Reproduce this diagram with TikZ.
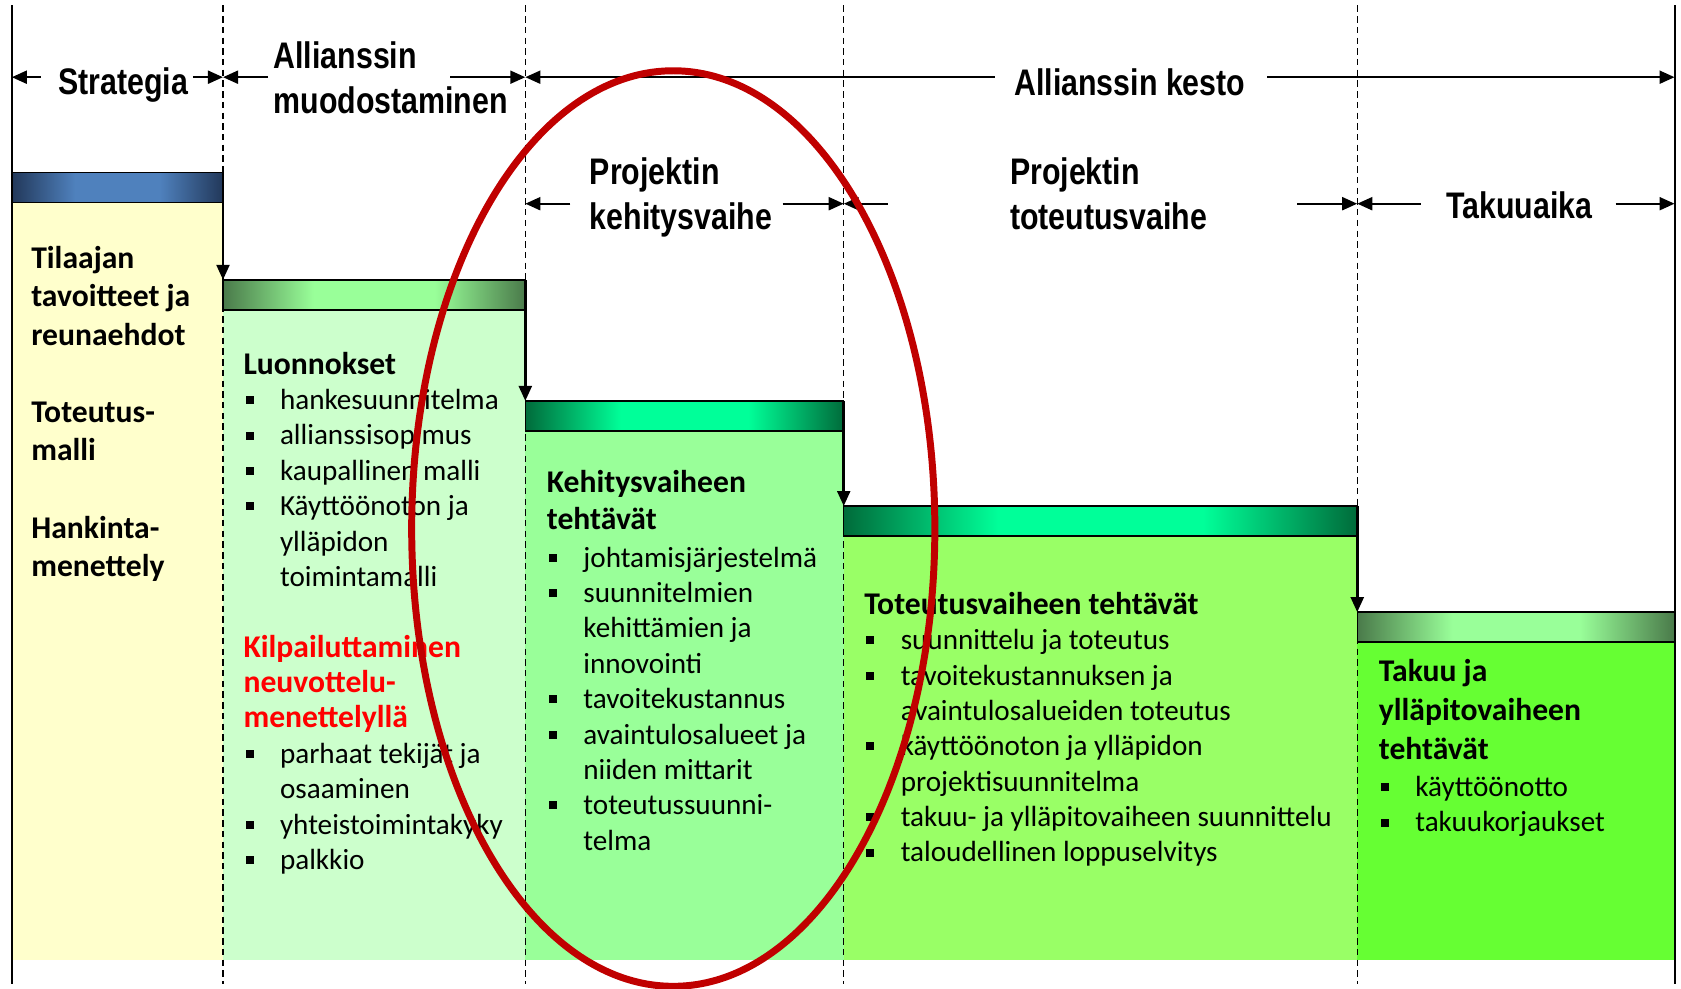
\documentclass[tikz,border=0pt]{standalone}
\usepackage{fontspec}
\setmainfont{Carlito}
\newfontfamily\hdrfont[FakeStretch=0.82]{Liberation Sans}
\usetikzlibrary{arrows.meta}
\definecolor{bodyA}{HTML}{FFFFCC}
\definecolor{bodyB}{HTML}{CCFFCC}
\definecolor{bodyC}{HTML}{99FF99}
\definecolor{bodyD}{HTML}{99FF66}
\definecolor{bodyE}{HTML}{66FF33}
\definecolor{hAe}{HTML}{22385A}
\definecolor{hAm}{HTML}{4F81BD}
\definecolor{hBe}{HTML}{4A7A4A}
\definecolor{hBm}{HTML}{99FF99}
\definecolor{hCe}{HTML}{006B3A}
\definecolor{hCm}{HTML}{00FF99}
\definecolor{ringred}{HTML}{C00000}
\pgfdeclarehorizontalshading{barA}{100bp}{color(0bp)=(hAe); color(25bp)=(hAe); color(40bp)=(hAm); color(60bp)=(hAm); color(75bp)=(hAe); color(100bp)=(hAe)}
\pgfdeclarehorizontalshading{barB}{100bp}{color(0bp)=(hBe); color(25bp)=(hBe); color(40bp)=(hBm); color(60bp)=(hBm); color(75bp)=(hBe); color(100bp)=(hBe)}
\pgfdeclarehorizontalshading{barC}{100bp}{color(0bp)=(hCe); color(25bp)=(hCe); color(40bp)=(hCm); color(60bp)=(hCm); color(75bp)=(hCe); color(100bp)=(hCe)}
\newcommand{\bul}{\makebox[34pt][l]{\hspace*{2pt}\rule[5pt]{7.5pt}{7.5pt}}}
\newcommand{\ind}{\hspace*{34pt}}
\newcommand{\hb}{\bfseries\fontsize{29.5}{33}\selectfont}
\begin{document}
\begin{tikzpicture}[x=1pt,y=-1pt,
  hdtext/.style={inner sep=0pt, font=\hdrfont\bfseries\fontsize{34.5}{42}\selectfont},
  coltext/.style={inner sep=0pt, anchor=base west, font=\fontsize{27.2}{33}\selectfont},
  dimarrow/.style={line width=2.2pt, -{Triangle[length=14pt,width=12pt]}},
  steparrow/.style={line width=2.5pt, -{Triangle[length=14pt,width=12pt]}},
  guide/.style={line width=1.1pt, dash pattern=on 6pt off 4pt},
  border/.style={line width=2pt},
  barline/.style={line width=1.3pt},
  redring/.style={line width=6.5pt, draw=ringred}]
\useasboundingbox (0,0) rectangle (1568,922);
\fill[white] (0,0) rectangle (1568,922);
% bodies
\fill[bodyA] (11,189) rectangle (208,895);
\fill[bodyB] (208,289) rectangle (490,895);
\fill[bodyC] (490,402) rectangle (787,895);
\fill[bodyD] (787,500) rectangle (1266,895);
\fill[bodyE] (1266,599) rectangle (1562,895);
% header bars
\shade[shading=barA] (11,161) rectangle (208,189);
\draw[barline] (11,161) rectangle (208,189);
\shade[shading=barB] (208,261) rectangle (490,289);
\draw[barline] (208,261) rectangle (490,289);
\shade[shading=barC] (490,374) rectangle (787,402);
\draw[barline] (490,374) rectangle (787,402);
\shade[shading=barC] (787,472) rectangle (1266,500);
\draw[barline] (787,472) rectangle (1266,500);
\shade[shading=barB] (1266,571) rectangle (1562,599);
\draw[barline] (1266,571) rectangle (1562,599);
% guide lines
\draw[border] (11,5) -- (11,918);
\draw[border] (1562,5) -- (1562,918);
\foreach \gx in {208,490,787,1266} \draw[guide] (\gx,5) -- (\gx,918);
% step arrows
\coordinate (s1a) at (208,161); \coordinate (s1b) at (208,261);
\coordinate (s2a) at (490,261); \coordinate (s2b) at (490,374);
\coordinate (s3a) at (787,374); \coordinate (s3b) at (787,472);
\coordinate (s4a) at (1266,472); \coordinate (s4b) at (1266,571);
\draw[steparrow] (s1a) -- (s1b);
\draw[steparrow] (s2a) -- (s2b);
\draw[steparrow] (s3a) -- (s3b);
\draw[steparrow] (s4a) -- (s4b);
% top row
\node[hdtext, anchor=base] (strat) at (115,88) {Strategia};
\node[hdtext, anchor=base west] (allmuod) at (255,64) {\begin{tabular}[t]{@{}l@{}}Allianssin\\muodostaminen\end{tabular}};
\node[hdtext, anchor=base west] (allkesto) at (946,89) {Allianssin kesto};
\coordinate (t0) at (11,72); \coordinate (t0s) at (38,72);
\coordinate (t1) at (208,72); \coordinate (t1s) at (180,72); \coordinate (t1r) at (250,72);
\coordinate (t2) at (490,72); \coordinate (t2s) at (420,72); \coordinate (t2r) at (928,72);
\coordinate (t3) at (1562,72); \coordinate (t3s) at (1182,72);
\draw[dimarrow] (t0s) -- (t0);
\draw[dimarrow] (t1s) -- (t1);
\draw[dimarrow] (t1r) -- (t1);
\draw[dimarrow] (t2s) -- (t2);
\draw[dimarrow] (t2r) -- (t2);
\draw[dimarrow] (t3s) -- (t3);
% second row
\node[hdtext, anchor=base west] (kehv) at (550,172) {\begin{tabular}[t]{@{}l@{}}Projektin\\kehitysvaihe\end{tabular}};
\node[hdtext, anchor=base west] (totv) at (942,172) {\begin{tabular}[t]{@{}l@{}}Projektin\\toteutusvaihe\end{tabular}};
\node[hdtext, anchor=base] (takuu) at (1417,204) {Takuuaika};
\coordinate (m1) at (490,190); \coordinate (m1s) at (532,190);
\coordinate (m2) at (787,190); \coordinate (m2s) at (730,190); \coordinate (m2r) at (828,190);
\coordinate (m3) at (1266,190); \coordinate (m3s) at (1210,190); \coordinate (m3r) at (1325,190);
\coordinate (m4) at (1562,190); \coordinate (m4s) at (1507,190);
\draw[dimarrow] (m1s) -- (m1);
\draw[dimarrow] (m2s) -- (m2);
\draw[dimarrow] (m2r) -- (m2);
\draw[dimarrow] (m3s) -- (m3);
\draw[dimarrow] (m3r) -- (m3);
\draw[dimarrow] (m4s) -- (m4);
% column texts
\node[coltext, font=\bfseries\fontsize{29.5}{36}\selectfont] (colA) at (29,250) {\begin{tabular}[t]{@{}l@{}}
Tilaajan\\tavoitteet ja\\reunaehdot\\[36pt]
Toteutus-\\malli\\[36pt]
Hankinta-\\menettely\end{tabular}};
\node[coltext] (colB) at (227,349) {\begin{tabular}[t]{@{}l@{}}
\hb Luonnokset\\
\bul hankesuunnitelma\\
\bul allianssisopimus\\
\bul kaupallinen malli\\
\bul Käyttöönoton ja\\
\ind ylläpidon\\
\ind toimintamalli\\[33pt]
\hb\color{red}Kilpailuttaminen\\
\hb\color{red}neuvottelu-\\
\hb\color{red}menettelyllä\\
\bul parhaat tekijät ja\\
\ind osaaminen\\
\bul yhteistoimintakyky\\
\bul palkkio\end{tabular}};
\node[coltext] (colC) at (510,459) {\begin{tabular}[t]{@{}l@{}}
\hb Kehitysvaiheen\\[2pt]
\hb tehtävät\\[2pt]
\bul johtamisjärjestelmä\\
\bul suunnitelmien\\
\ind kehittämien ja\\
\ind innovointi\\
\bul tavoitekustannus\\
\bul avaintulosalueet ja\\
\ind niiden mittarit\\
\bul toteutussuunni-\\
\ind telma\end{tabular}};
\node[coltext] (colD) at (806,573) {\begin{tabular}[t]{@{}l@{}}
\hb Toteutusvaiheen tehtävät\\
\bul suunnittelu ja toteutus\\
\bul tavoitekustannuksen ja\\
\ind avaintulosalueiden toteutus\\
\bul käyttöönoton ja ylläpidon\\
\ind projektisuunnitelma\\
\bul takuu- ja ylläpitovaiheen suunnittelu\\
\bul taloudellinen loppuselvitys\end{tabular}};
\node[coltext] (colE) at (1286,636) {\begin{tabular}[t]{@{}l@{}}
\hb Takuu ja\\[3pt]
\hb ylläpitovaiheen\\[3pt]
\hb tehtävät\\[2pt]
\bul käyttöönotto\\
\bul takuukorjaukset\end{tabular}};
% red ellipse
\draw[redring] (628,493) ellipse [x radius=244pt, y radius=427pt];
\end{tikzpicture}
\end{document}
